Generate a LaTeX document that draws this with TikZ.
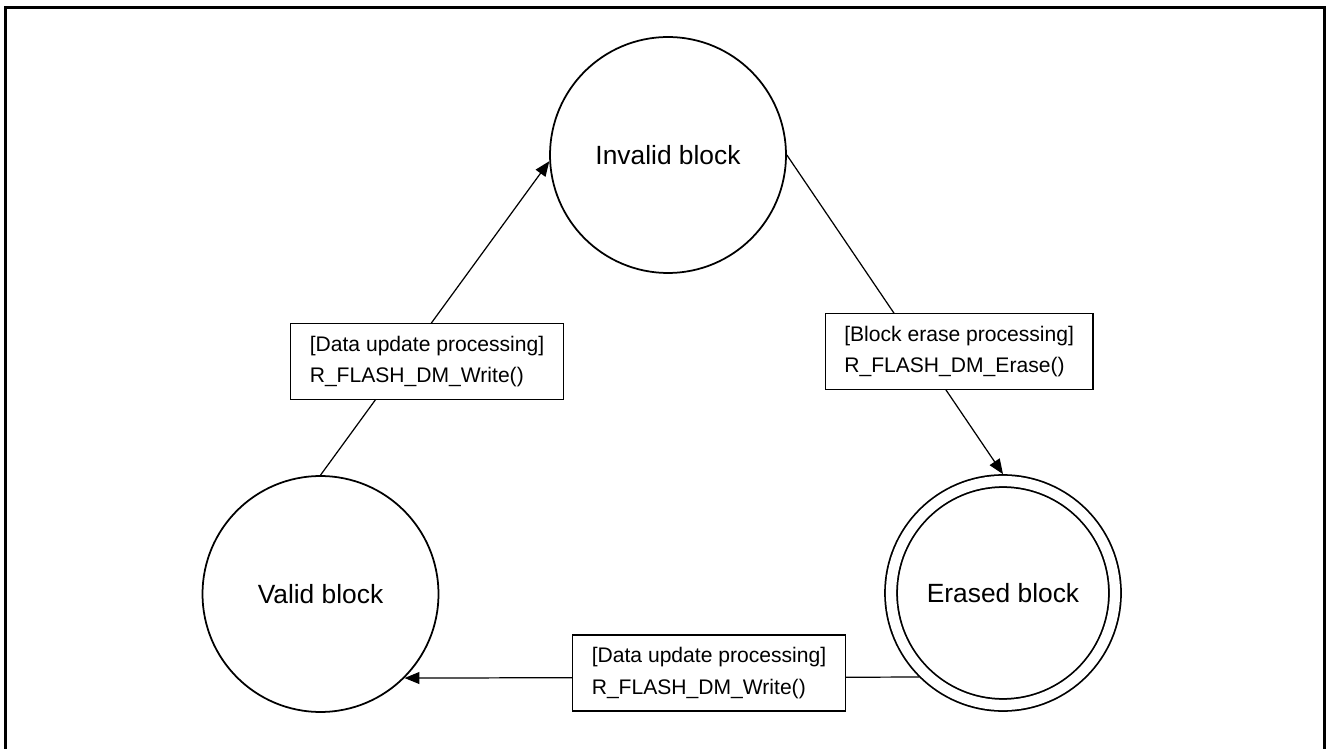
\documentclass[tikz,border=0pt]{standalone}
\usepackage{fontspec}
\setmainfont{Liberation Sans}
\usetikzlibrary{arrows.meta}
\begin{document}
\begin{tikzpicture}[x=0.02cm,y=-0.02cm,
  state/.style={circle,draw,line width=1pt,inner sep=0pt,minimum size=4.72cm,font=\fontsize{15}{18}\selectfont},
  finalstate/.style={circle,draw,line width=1pt,double,double distance=0.205cm,inner sep=0pt,outer sep=0.138cm,minimum size=4.48cm,font=\fontsize{15}{18}\selectfont},
  conn/.style={line width=0.7pt},
  arr/.style={conn,-{Triangle[length=8.5pt,width=6.8pt]}},
  label box/.style={draw,fill=white,line width=0.7pt,align=left,inner xsep=0.38cm,inner ysep=0.2cm,minimum height=1.52cm,font=\fontsize{12}{18}\selectfont}
]
\useasboundingbox (0,0) rectangle (1328,749);
\draw[line width=1.7pt] (5.5,760) -- (5.5,7.5) -- (1324.5,7.5) -- (1324.5,760);

\node[state] (invalid) at (668,155) {Invalid block};
\node[state] (valid) at (320.5,594) {Valid block};
\node[finalstate] (erased) at (1003,593) {Erased block};

\draw[arr] (valid.north) -- (invalid.183);
\draw[arr] (invalid.east) -- (erased.north);
\draw[arr] (erased.225) -- (valid.-45);

\node[label box] (lbl1) at (427,361.5) {[Data update processing]\\R\_FLASH\_DM\_Write()};
\node[label box,anchor=west] (lbl2) at (824.7,351.5) {[Block erase processing]\\R\_FLASH\_DM\_Erase()};
\node[label box] (lbl3) at (709,673) {[Data update processing]\\R\_FLASH\_DM\_Write()};
\end{tikzpicture}
\end{document}
